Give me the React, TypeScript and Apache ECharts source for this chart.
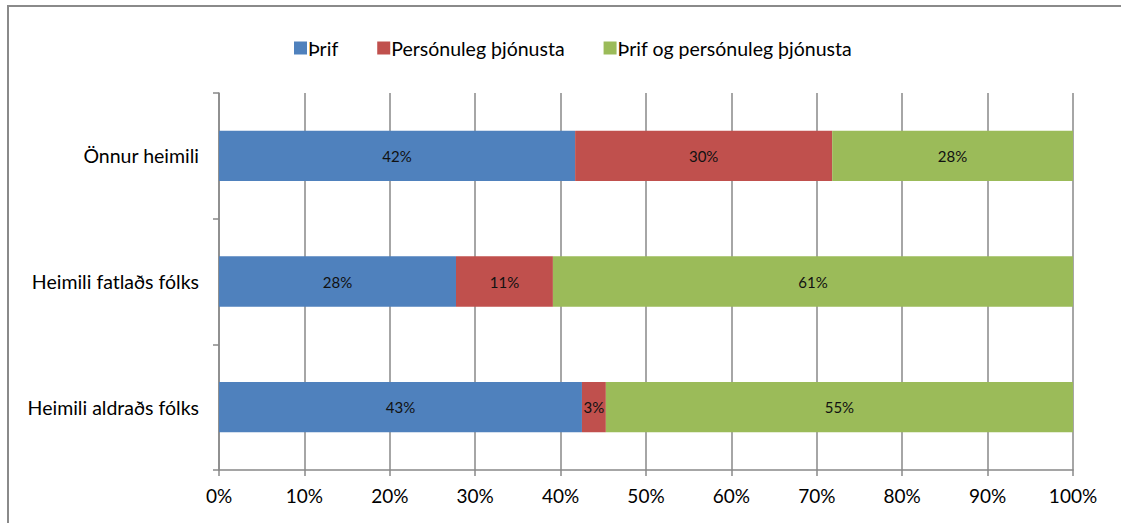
import React, { useEffect, useRef } from "react";
import * as echarts from "echarts";

const categories = ["Heimili aldraðs fólks", "Heimili fatlaðs fólks", "Önnur heimili"];
const seriesNames = ["Þrif", "Persónuleg þjónusta", "Þrif og persónuleg þjónusta"];
const thrif = [42.5, 27.75, 41.7];
const personuleg = [2.8, 11.35, 30.1];
const badar = [54.7, 60.9, 28.2];
const xTicks = [0, 10, 20, 30, 40, 50, 60, 70, 80, 90, 100];

const colors = ["#4F81BD", "#C0504D", "#9BBB59"];
const FONT = "Lato, 'Noto Sans', sans-serif";

export default function App() {
  const ref = useRef<HTMLDivElement>(null);
  useEffect(() => {
    if (!ref.current) return;
    const chart = echarts.init(ref.current, undefined, { renderer: "svg" });
    const values = [thrif, personuleg, badar];
    chart.setOption({
      animation: false,
      textStyle: { fontFamily: FONT },
      graphic: [
        {
          type: "line",
          shape: { x1: 7, y1: 6, x2: 1121, y2: 6 },
          style: { stroke: "#8a8a8a", lineWidth: 2 },
          silent: true,
        },
        {
          type: "line",
          shape: { x1: 8, y1: 5, x2: 8, y2: 523 },
          style: { stroke: "#8a8a8a", lineWidth: 2 },
          silent: true,
        },
      ],
      legend: {
        top: 33,
        left: 289,
        itemWidth: 13,
        itemHeight: 13,
        itemGap: 39,
        icon: "rect",
        textStyle: { fontSize: 19.5, color: "#000", fontFamily: FONT, padding: [0, 0, 0, -4] },
        data: seriesNames,
      },
      grid: { left: 219, right: 48, top: 93, bottom: 53, containLabel: false },
      xAxis: {
        type: "value",
        min: xTicks[0],
        max: xTicks[xTicks.length - 1],
        interval: 10,
        axisLine: { show: true, lineStyle: { color: "#888", width: 1.5 } },
        axisTick: { show: true, length: 6, lineStyle: { color: "#888", width: 1.5 } },
        splitLine: { show: true, lineStyle: { color: "#888", width: 1.5 } },
        axisLabel: {
          formatter: "{value}%",
          fontSize: 19,
          color: "#000",
          margin: 16,
          fontFamily: FONT,
        },
      },
      yAxis: {
        type: "category",
        data: categories,
        axisLine: { show: true, lineStyle: { color: "#888", width: 1.5 } },
        axisTick: { show: true, length: 6, alignWithLabel: false, lineStyle: { color: "#888", width: 1.5 } },
        axisLabel: { fontSize: 19.5, color: "#000", margin: 20, fontFamily: FONT },
      },
      series: seriesNames.map((name, i) => ({
        name,
        type: "bar",
        stack: "total",
        barWidth: "40%",
        data: values[i],
        itemStyle: { color: colors[i] },
        label: {
          show: true,
          position: "inside",
          color: "#111",
          fontSize: 15,
          fontFamily: FONT,
          formatter: (p: any) => Math.round(p.value) + "%",
        },
      })),
    });
    return () => chart.dispose();
  }, []);
  return (
    <div
      ref={ref}
      style={{ position: "fixed", left: 0, top: 0, width: 1121, height: 523, background: "#fff" }}
    />
  );
}
